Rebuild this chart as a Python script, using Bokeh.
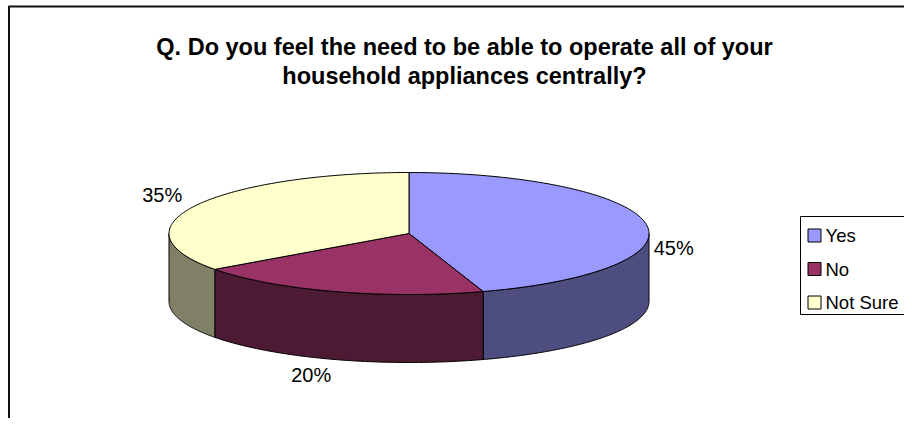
import numpy as np
from bokeh.plotting import figure
from bokeh.models import Range1d
from bokeh.embed import file_html
from bokeh.resources import INLINE
from bokeh.core.properties import value

# ---- data ----
categories = ["Yes", "No", "Not Sure"]
shares = [45, 20, 35]
pct_labels = ["45%", "20%", "35%"]
top_colors = ["#9999FF", "#993366", "#FFFFCC"]
side_colors = ["#4D4D80", "#4D1A33", "#808066"]
title_lines = ["Q. Do you feel the need to be able to operate all of your",
               "household appliances centrally?"]

# ---- layout (pixel units) ----
W, H = 904, 418
FONT = "Liberation Sans"
CX, CY = 408.5, 233.0     # pie top-face centre
RX, RY = 240.0, 61.0      # ellipse radii
DEPTH = 68.0              # pie thickness
LABEL_NUDGE = [(0, -2), (-15, 2), (-8, -22)]

p = figure(width=W, height=H, x_range=Range1d(0, W), y_range=Range1d(H, 0),
           output_backend="svg", toolbar_location=None, min_border=0,
           x_axis_location=None, y_axis_location=None)
p.grid.visible = False
p.outline_line_color = None
p.background_fill_color = "white"
p.border_fill_color = "white"

# frame lines (chart area border, left and top visible)
p.segment(x0=[8.5, 8], y0=[5.5, 6], x1=[8.5, W + 10], y1=[H + 10, 6],
          line_color="#111111", line_width=2)

# slice angles (math degrees, clockwise from top)
total = float(sum(shares))
cum = np.concatenate([[0], np.cumsum(shares)]) / total
a0s = 90 - 360 * cum[:-1]
a1s = 90 - 360 * cum[1:]

def arc(t0, t1, n=120, dy=0.0):
    t = np.radians(np.linspace(t0, t1, n))
    return CX + RX * np.cos(t), CY - RY * np.sin(t) + dy

# side walls (front half only)
sx, sy, sc = [], [], []
for a0, a1, col in zip(a0s, a1s, side_colors):
    for shift in (-360, 0, 360):
        lo = max(a1 + shift, -180)
        hi = min(a0 + shift, 0)
        if lo < hi:
            tx, ty = arc(hi, lo)
            bx, by = arc(lo, hi, dy=DEPTH)
            sx.append(np.concatenate([tx, bx]))
            sy.append(np.concatenate([ty, by]))
            sc.append(col)
p.patches(xs=sx, ys=sy, fill_color=sc, line_color="black", line_width=1)

# top faces
tx_all, ty_all = [], []
for a0, a1 in zip(a0s, a1s):
    ax, ay = arc(a0, a1)
    tx_all.append(np.concatenate([[CX], ax, [CX]]))
    ty_all.append(np.concatenate([[CY], ay, [CY]]))
p.patches(xs=tx_all, ys=ty_all, fill_color=top_colors, line_color="black", line_width=1)

# percentage labels
lx, ly = [], []
for a0, a1, (nx, ny) in zip(a0s, a1s, LABEL_NUDGE):
    m = np.radians((a0 + a1) / 2)
    lx.append(CX + (RX + 28) * np.cos(m) + nx)
    ly.append(CY + DEPTH / 2 - (RY + DEPTH / 2 + 16) * np.sin(m) + ny)
p.text(x=lx, y=ly, text=pct_labels, text_align="center", text_baseline="middle",
       text_font=value(FONT), text_font_size="20px", text_color="black")

# title
p.text(x=[464, 464], y=[46, 75], text=title_lines, text_align="center",
       text_baseline="alphabetic", text_font=value(FONT), text_font_size="23.5px",
       text_font_style="bold", text_color="black")

# legend (shifted slightly left so the longest entry fits the figure)
LEG_L, LEG_T, LEG_B = 800, 216, 314
p.quad(left=[LEG_L], right=[W + 20], top=[LEG_T], bottom=[LEG_B],
       fill_color="white", line_color="black", line_width=1)
rows = [235 + 33.5 * i for i in range(len(categories))]
p.rect(x=[LEG_L + 14] * len(categories), y=rows, width=13, height=13,
       fill_color=top_colors, line_color="black", line_width=1)
p.text(x=[LEG_L + 25] * len(categories), y=rows, text=categories, text_align="left",
       text_baseline="middle", text_font=value(FONT), text_font_size="18.5px",
       text_color="black")

open("out.html", "w").write(file_html(p, INLINE))
